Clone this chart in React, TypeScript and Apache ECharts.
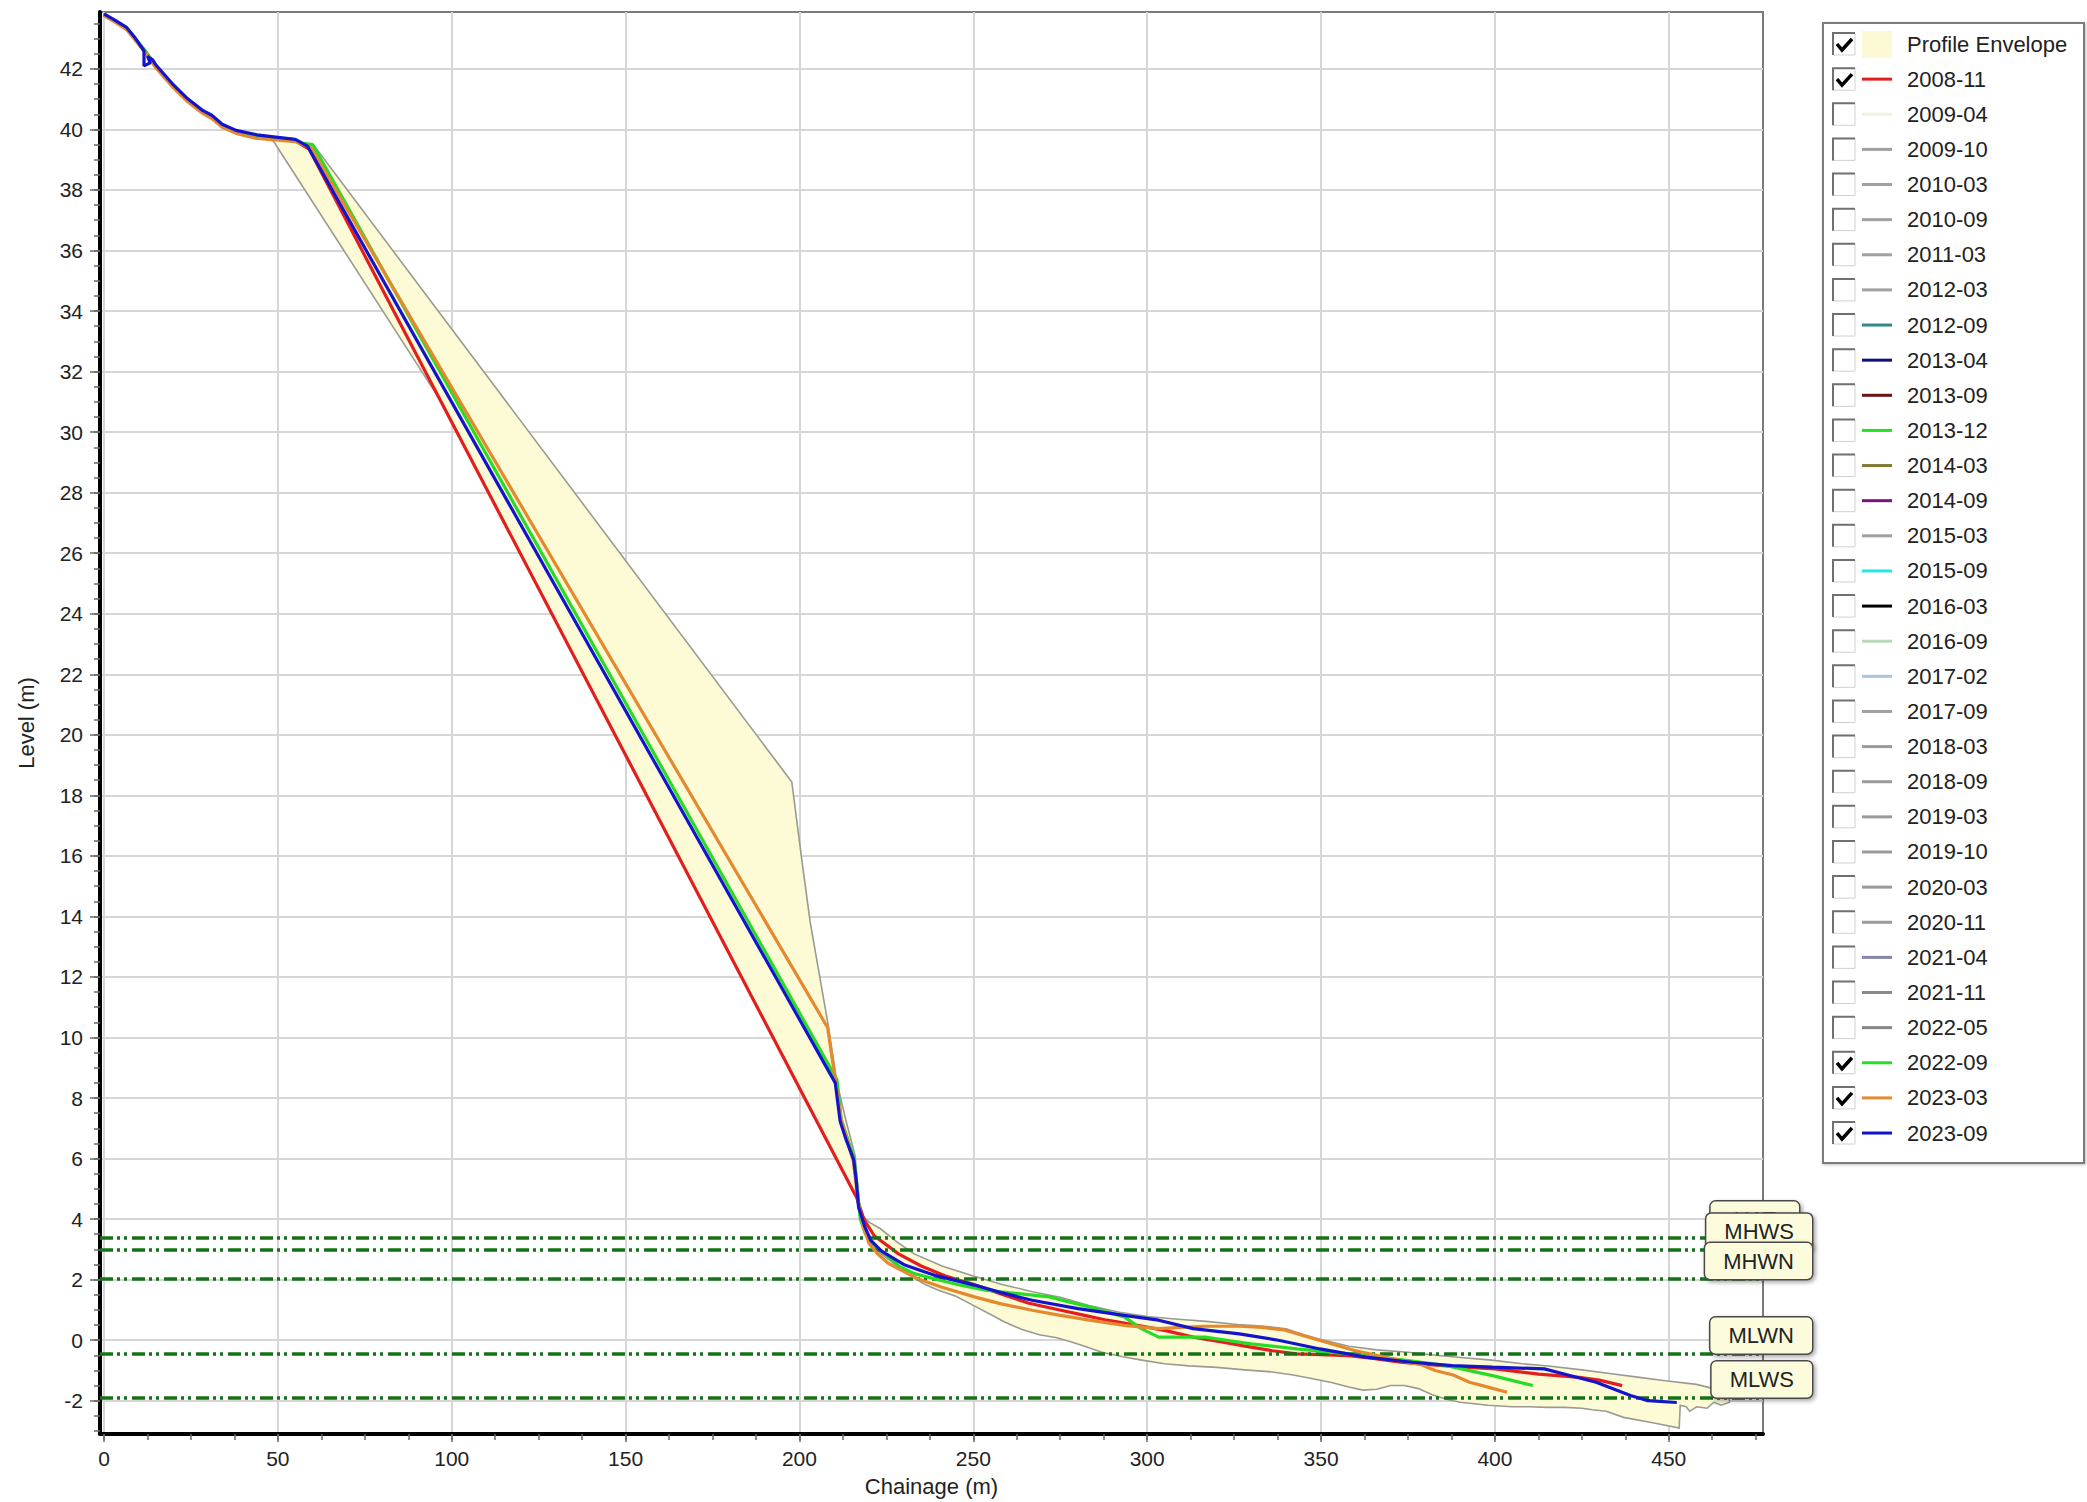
import React, { useEffect, useRef } from 'react';
import * as echarts from 'echarts';

// ---------- axes ----------
const X_MIN = -1.15;
const X_MAX = 477.1;
const Y_MIN = -3.1;
const Y_MAX = 43.88;
const X_LABELS = [0, 50, 100, 150, 200, 250, 300, 350, 400, 450];
const Y_LABELS = [-2, 0, 2, 4, 6, 8, 10, 12, 14, 16, 18, 20, 22, 24, 26, 28, 30, 32, 34, 36, 38, 40, 42];
const X_MINOR_STEP = 12.5;
const Y_MINOR_STEP = 0.5;

// ---------- tide levels ----------
const TIDE_NAMES = ['HAT', 'MHWS', 'MHWN', 'MLWN', 'MLWS'];
const TIDE_LEVELS = [3.39, 2.99, 2.02, -0.44, -1.89];

// ---------- surveys (chainage m, level m) ----------
const SURVEY_2008_11 = [
  [0, 43.78], [3, 43.58], [6.5, 43.32], [9, 42.97], [12, 42.55], [15, 42.05], [20, 41.4], [24, 40.95],
  [28.5, 40.55], [31, 40.4], [34, 40.1], [38, 39.9], [44, 39.75], [50, 39.68], [55, 39.62], [59, 39.35],
  [216.5, 4.7], [218.5, 4.0], [221.5, 3.45], [228.5, 2.85], [235, 2.45], [242, 2.12], [250, 1.85],
  [258.6, 1.5], [266, 1.22], [275.2, 0.99], [282, 0.82], [288.4, 0.66], [300, 0.43], [306, 0.3],
  [313.2, 0.1], [321, -0.05], [329.8, -0.23], [336, -0.35], [343, -0.45], [350, -0.48], [357.9, -0.51],
  [365, -0.6], [372.8, -0.73], [382, -0.82], [391, -0.89], [400, -0.95], [412.6, -1.12], [424.2, -1.23],
  [430, -1.32], [436.6, -1.5],
];
const SURVEY_2022_09 = [
  [0, 43.8], [3, 43.6], [6.5, 43.35], [9, 43.0], [12, 42.58], [15, 42.08], [20, 41.43], [24, 40.98],
  [28.5, 40.58], [31, 40.43], [34, 40.13], [38, 39.93], [44, 39.78], [50, 39.72], [55, 39.66], [57, 39.55],
  [60, 39.5], [210.8, 8.6], [212, 7.3], [215.7, 6.0], [216.8, 4.8], [217.5, 4.0], [219, 3.5], [222.2, 3.09],
  [228.8, 2.43], [233, 2.2], [240.4, 1.98], [247, 1.8], [253.6, 1.65], [262, 1.55], [271.9, 1.43],
  [278, 1.25], [283.4, 1.1], [293.4, 0.77], [298.3, 0.38], [303.3, 0.1], [316.6, 0.1], [329.8, -0.12],
  [343, -0.29], [357.9, -0.45], [374.5, -0.67], [386.1, -0.84], [399.3, -1.17], [410.9, -1.5],
];
const SURVEY_2023_03 = [
  [0, 43.76], [3, 43.56], [6.5, 43.3], [9, 42.95], [12, 42.52], [15, 42.02], [20, 41.37], [24, 40.92],
  [28.5, 40.52], [31, 40.36], [34, 40.07], [38, 39.87], [44, 39.7], [50, 39.65], [55, 39.6], [59.5, 39.4],
  [208.1, 10.33], [210.3, 8.62], [212, 7.3], [215.5, 5.9], [217, 4.5], [218.5, 3.7], [220, 3.2],
  [222.5, 2.85], [225.5, 2.54], [233.8, 2.04], [241, 1.75], [250.3, 1.43], [258, 1.2], [266.9, 0.99],
  [275, 0.82], [283.4, 0.66], [293.4, 0.49], [303.3, 0.38], [310, 0.42], [316.6, 0.46], [326.5, 0.46],
  [333, 0.42], [339.7, 0.33], [345, 0.15], [349.7, -0.01], [359.6, -0.34], [366, -0.5], [372.8, -0.67],
  [379, -0.82], [382.8, -1.0], [388, -1.15], [392.7, -1.39], [398, -1.55], [403.5, -1.72],
];
const SURVEY_2023_09 = [
  [0, 43.82], [3, 43.62], [6.5, 43.37], [9, 43.02], [11.5, 42.6], [11.5, 42.1], [13.3, 42.2],
  [12.5, 42.42], [14, 42.3], [15, 42.12], [20, 41.47], [24, 41.02], [28.5, 40.62], [31, 40.47],
  [34, 40.17], [38, 39.97], [44, 39.82], [50, 39.74], [55, 39.67], [58.5, 39.45], [210.3, 8.5],
  [211.7, 7.23], [213.5, 6.6], [215.6, 5.96], [216.3, 5.3], [217, 4.4], [218.8, 3.75], [220.5, 3.3],
  [223.5, 2.95], [230.3, 2.48], [238.7, 2.15], [250.3, 1.82], [258, 1.57], [266.9, 1.32], [280.1, 1.04],
  [293.4, 0.82], [303.3, 0.66], [313.2, 0.38], [326.5, 0.21], [338.1, -0.01], [349.7, -0.29],
  [362.9, -0.56], [376.2, -0.73], [387.7, -0.84], [399.3, -0.89], [414.2, -0.95], [421, -1.15],
  [429.1, -1.39], [439, -1.83], [444, -2.0], [452.3, -2.06],
];

// ---------- profile envelope ----------
const ENVELOPE_UPPER = [
  [0, 43.8], [3, 43.6], [6.5, 43.35], [9, 43.0], [12, 42.6], [15, 42.1], [20, 41.45], [24, 41.0],
  [28.5, 40.6], [31, 40.45], [34, 40.15], [38, 39.95], [44, 39.8], [50, 39.72], [55, 39.65], [58.5, 39.5],
  [60.5, 39.45], [197.8, 18.44], [200.7, 15.84], [203.1, 13.8], [208.1, 10.52], [210.8, 8.5],
  [213.5, 7.2], [216, 6.1], [217.5, 4.2], [220, 3.9], [223.3, 3.68], [228, 3.25], [233, 2.85],
  [241, 2.45], [250, 2.12], [258, 1.85], [267, 1.6], [275, 1.42], [283, 1.15], [292, 0.92], [300, 0.78],
  [308, 0.7], [317, 0.62], [326, 0.52], [333, 0.47], [340, 0.38], [345, 0.18], [350, 0.02], [358, -0.2],
  [366, -0.32], [375, -0.4], [383, -0.5], [391, -0.58], [399, -0.66], [408, -0.78], [416, -0.86],
  [425, -0.98], [433, -1.1], [441, -1.22], [449, -1.34], [458, -1.46], [467, -1.72],
];
const ENVELOPE_LOWER = [
  [0, 43.75], [3, 43.55], [6.5, 43.3], [9, 42.95], [12, 42.55], [15, 42.05], [20, 41.4], [24, 40.95],
  [28.5, 40.55], [31, 40.38], [34, 40.1], [38, 39.9], [44, 39.75], [48.7, 39.62], [97, 31.0],
  [216.5, 4.7], [217, 4.3], [219, 3.5], [222, 2.98], [227, 2.55], [230, 2.3], [233, 2.05], [236, 1.85],
  [240, 1.65], [245, 1.45], [250, 1.15], [255, 0.85], [259, 0.6], [264, 0.35], [269, 0.18], [274, 0.08],
  [278, -0.05], [282, -0.2], [287, -0.4], [293, -0.55], [298, -0.65], [305, -0.78], [312, -0.85],
  [320, -0.9], [328, -0.98], [336, -1.05], [342, -1.15], [348, -1.28], [353, -1.4], [358, -1.55],
  [362, -1.65], [366, -1.62], [370, -1.5], [374, -1.5], [378, -1.6], [382, -1.8], [386, -1.95],
  [390, -2.05], [398, -2.15], [405, -2.2], [410, -2.2], [415, -2.22], [420, -2.22], [425, -2.25],
  [428, -2.3], [432, -2.35], [437, -2.55], [445, -2.72], [453, -2.9], [453.3, -2.15], [455, -2.2],
  [456, -2.35], [458, -2.2], [461, -2.25], [463, -2.05], [465, -2.15], [467.5, -2.05],
];

// ---------- legend ----------
const LEGEND_NAMES = [
  'Profile Envelope', '2008-11', '2009-04', '2009-10', '2010-03', '2010-09', '2011-03', '2012-03',
  '2012-09', '2013-04', '2013-09', '2013-12', '2014-03', '2014-09', '2015-03', '2015-09', '2016-03',
  '2016-09', '2017-02', '2017-09', '2018-03', '2018-09', '2019-03', '2019-10', '2020-03', '2020-11',
  '2021-04', '2021-11', '2022-05', '2022-09', '2023-03', '2023-09',
];
const LEGEND_COLORS = [
  '#fbfad4', '#e41e1e', '#f3f1dc', '#a0a0a0', '#a0a0a0', '#a0a0a0', '#a0a0a0', '#a0a0a0',
  '#2f8a86', '#10107a', '#6a1414', '#26e026', '#7f7a2e', '#7a137a', '#a0a0a0', '#26e6e6', '#000000',
  '#b9d9b9', '#a9c6e2', '#a0a0a0', '#9a9a9a', '#9a9a9a', '#9a9a9a', '#9a9a9a', '#9a9a9a', '#9a9a9a',
  '#8585aa', '#8a8a8a', '#858585', '#26e026', '#e28a34', '#1212cc',
];
const LEGEND_CHECKED = [
  true, true, false, false, false, false, false, false, false, false, false, false, false, false, false,
  false, false, false, false, false, false, false, false, false, false, false, false, false, false,
  true, true, true,
];

const FONT = '"Liberation Sans", Arial, Helvetica, sans-serif';
const ENV_FILL = '#fcfbd5';
const ENV_STROKE = '#9a9a92';
const TIDE_COLOR = '#177217';

function steps(min: number, max: number, step: number) {
  const out: number[] = [];
  for (let v = Math.ceil(min / step) * step; v <= max + 1e-9; v += step) out.push(Math.round(v * 1000) / 1000);
  return out;
}

function buildLegend() {
  const els: any[] = [];
  const left = 1823, top = 23, w = 261, h = 1140;
  const row0 = 44, rowH = 35.13;
  els.push({
    type: 'rect', silent: true, z: 100,
    shape: { x: left, y: top, width: w, height: h },
    style: { fill: '#fff', stroke: '#7c7c7c', lineWidth: 2, shadowColor: 'rgba(0,0,0,0.25)', shadowBlur: 3, shadowOffsetX: 1, shadowOffsetY: 1 },
  });
  LEGEND_NAMES.forEach((name, i) => {
    const cy = row0 + i * rowH;
    const bx = 1833, by = cy - 11;
    els.push({ type: 'rect', silent: true, z: 101, shape: { x: bx, y: by, width: 22, height: 22 }, style: { fill: '#fff', stroke: '#d0d0d0', lineWidth: 1 } });
    els.push({ type: 'polyline', silent: true, z: 102, shape: { points: [[bx, by + 22], [bx, by], [bx + 22, by]] }, style: { fill: null, stroke: '#707070', lineWidth: 2 } });
    if (LEGEND_CHECKED[i]) {
      els.push({ type: 'polyline', silent: true, z: 103, shape: { points: [[bx + 4, by + 11], [bx + 9, by + 17], [bx + 19, by + 6]] }, style: { fill: null, stroke: '#000', lineWidth: 3.5 } });
    }
    if (i === 0) {
      els.push({ type: 'rect', silent: true, z: 101, shape: { x: 1862, y: cy - 13, width: 30, height: 27 }, style: { fill: LEGEND_COLORS[i] } });
    } else {
      els.push({ type: 'line', silent: true, z: 101, shape: { x1: 1862, y1: cy, x2: 1892, y2: cy }, style: { stroke: LEGEND_COLORS[i], lineWidth: 3 } });
    }
    els.push({ type: 'text', silent: true, z: 101, style: { text: name, x: 1907, y: cy, fill: '#222', fontSize: 22, fontFamily: FONT, verticalAlign: 'middle', align: 'left' } });
  });
  return els;
}

function lineSeries(name: string, data: number[][], color: string, z: number) {
  return {
    type: 'line', name, data, z,
    showSymbol: false, symbol: 'none', silent: true,
    lineStyle: { color, width: 3.2 },
  };
}

export default function App() {
  const ref = useRef<HTMLDivElement>(null);
  useEffect(() => {
    const chart = echarts.init(ref.current!, null, { renderer: 'svg' });
    const envelope = ENVELOPE_UPPER.concat(ENVELOPE_LOWER.slice().reverse());
    const tickStyle = { color: '#6a6a6a', width: 1.5 };
    const labelStyle = { fontSize: 21, color: '#222', fontFamily: FONT };
    const option: any = {
      animation: false,
      backgroundColor: '#ffffff',
      textStyle: { fontFamily: FONT },
      grid: { left: 100, top: 12, right: 324, bottom: 68, show: true, borderColor: '#7a7a7a', borderWidth: 2, backgroundColor: 'transparent' },
      xAxis: [
        {
          type: 'value', min: X_MIN, max: X_MAX, position: 'bottom',
          name: 'Chainage (m)', nameLocation: 'middle', nameGap: 41,
          nameTextStyle: { fontSize: 22, color: '#222', fontFamily: FONT },
          axisLine: { show: true, onZero: false, lineStyle: { color: '#000', width: 4 } },
          axisTick: { show: true, customValues: X_LABELS, length: 8, lineStyle: tickStyle },
          axisLabel: { show: true, customValues: X_LABELS, margin: 14, ...labelStyle },
          splitLine: { show: true, lineStyle: { color: '#d6d6d6', width: 2 } },
        },
        {
          type: 'value', min: X_MIN, max: X_MAX, position: 'bottom',
          axisLine: { show: false, onZero: false },
          axisTick: { show: true, customValues: steps(0, X_MAX, X_MINOR_STEP), length: 6, lineStyle: tickStyle },
          axisLabel: { show: false },
          splitLine: { show: false },
        },
      ],
      yAxis: [
        {
          type: 'value', min: Y_MIN, max: Y_MAX, position: 'left',
          name: 'Level (m)', nameLocation: 'middle', nameGap: 63, nameRotate: 90,
          nameTextStyle: { fontSize: 22, color: '#222', fontFamily: FONT },
          axisLine: { show: true, onZero: false, lineStyle: { color: '#000', width: 4 } },
          axisTick: { show: true, customValues: Y_LABELS, length: 10, lineStyle: tickStyle },
          axisLabel: { show: true, customValues: Y_LABELS, margin: 17, ...labelStyle },
          splitLine: { show: true, lineStyle: { color: '#d6d6d6', width: 2 } },
        },
        {
          type: 'value', min: Y_MIN, max: Y_MAX, position: 'left',
          axisLine: { show: false, onZero: false },
          axisTick: { show: true, customValues: steps(Y_MIN, Y_MAX, Y_MINOR_STEP), length: 6, lineStyle: tickStyle },
          axisLabel: { show: false },
          splitLine: { show: false },
        },
      ],
      series: [
        {
          type: 'custom', name: 'Profile Envelope', silent: true, z: 1,
          data: [[0, 0]],
          renderItem: (params: any, api: any) => {
            if (params.dataIndex !== 0) return null;
            const pts = envelope.map((p) => api.coord(p));
            return {
              type: 'polygon',
              shape: { points: pts },
              style: { fill: ENV_FILL, stroke: ENV_STROKE, lineWidth: 1.6 },
            };
          },
        },
        {
          type: 'line', name: 'tides', data: [], z: 3, silent: true,
          markLine: {
            silent: true, symbol: 'none', animation: false,
            lineStyle: { color: TIDE_COLOR, width: 3.5, type: [13, 4, 3, 4, 3, 5] },
            label: {
              show: true, position: 'insideEndTop', formatter: '{b}', distance: 0,
              fontSize: 22, lineHeight: 22, color: '#222', fontFamily: FONT,
              backgroundColor: '#fcfcdc', borderColor: '#4a4a4a', borderWidth: 1.5, borderRadius: 5,
              padding: [7, 18, 7, 18],
              shadowColor: 'rgba(0,0,0,0.35)', shadowBlur: 4, shadowOffsetX: 2, shadowOffsetY: 2,
            },
            data: TIDE_NAMES.map((n, i) => ({
              name: n, yAxis: TIDE_LEVELS[i],
              label: { offset: [n === 'HAT' ? 36 : 49, 0], padding: n === 'HAT' ? [7, 23, 7, 23] : [7, 18, 7, 18] },
            })),
          },
        },
        lineSeries('2008-11', SURVEY_2008_11, '#e41e1e', 4),
        lineSeries('2022-09', SURVEY_2022_09, '#26dc26', 5),
        lineSeries('2023-03', SURVEY_2023_03, '#e5892f', 6),
        lineSeries('2023-09', SURVEY_2023_09, '#1414cc', 7),
      ],
      graphic: buildLegend(),
    };
    chart.setOption(option);
    return () => chart.dispose();
  }, []);
  return <div ref={ref} style={{ position: 'fixed', left: 0, top: 0, width: 2087, height: 1502, background: '#fff' }} />;
}
